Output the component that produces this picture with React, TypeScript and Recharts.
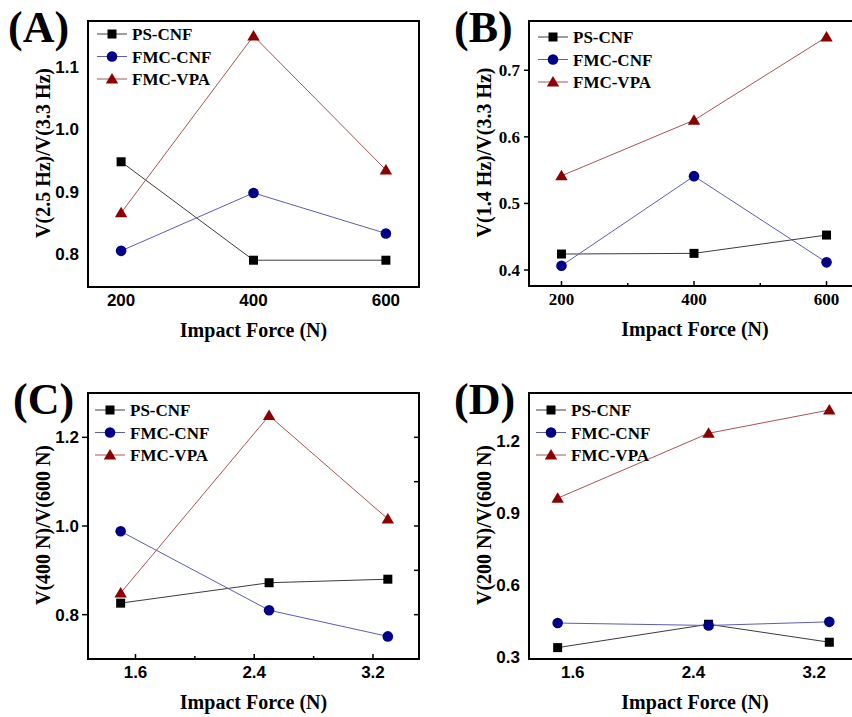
import React from "react";
import { LineChart, Line, XAxis, YAxis, ReferenceArea, Legend } from "recharts";

const SERIF = '"Liberation Serif", "Times New Roman", Times, serif';
const SANS = '"Liberation Sans", Arial, Helvetica, sans-serif';

// x values
const forceN = [200, 400, 600];
const forceScaled = [1.5, 2.5, 3.3];

const seriesNames = ["PS-CNF", "FMC-CNF", "FMC-VPA"];

// (A) V(2.5 Hz)/V(3.3 Hz)
const aPsCnf = [0.948, 0.79, 0.79];
const aFmcCnf = [0.805, 0.898, 0.833];
const aFmcVpa = [0.866, 1.15, 0.935];

// (B) V(1.4 Hz)/V(3.3 Hz)
const bPsCnf = [0.424, 0.425, 0.4525];
const bFmcCnf = [0.4065, 0.541, 0.4115];
const bFmcVpa = [0.5415, 0.625, 0.75];

// (C) V(400 N)/V(600 N)
const cPsCnf = [0.826, 0.872, 0.88];
const cFmcCnf = [0.988, 0.81, 0.751];
const cFmcVpa = [0.849, 1.249, 1.016];

// (D) V(200 N)/V(600 N)
const dPsCnf = [0.3375, 0.435, 0.36];
const dFmcCnf = [0.44, 0.43, 0.445];
const dFmcVpa = [0.961, 1.232, 1.329];

// ticks
const forceTicks = [200, 400, 600];
const forceMinor = [300, 500];
const scaledTicks = [1.6, 2.4, 3.2];
const scaledMinor = [2.0, 2.8];
const aYTicks = [0.8, 0.9, 1.0, 1.1];
const bYTicks = [0.4, 0.5, 0.6, 0.7];
const cYTicks = [0.8, 1.0, 1.2];
const cYMinor = [0.9, 1.1];
const dYTicks = [0.3, 0.6, 0.9, 1.2];

const STYLES = [
  { key: "ps", line: "#3c3c3c", fill: "#000000", shape: "square" },
  { key: "cnf", line: "#5c5cb4", fill: "#000088", shape: "circle" },
  { key: "vpa", line: "#a85454", fill: "#8b0000", shape: "triangle" },
];

function marker(shape: string, cx: number, cy: number, fill: string, key?: any) {
  if (shape === "square")
    return <rect key={key} x={cx - 4.5} y={cy - 4.5} width={9} height={9} fill={fill} />;
  if (shape === "circle") return <circle key={key} cx={cx} cy={cy} r={5.3} fill={fill} />;
  return (
    <polygon
      key={key}
      points={`${cx},${cy - 6} ${cx + 6.2},${cy + 4.5} ${cx - 6.2},${cy + 4.5}`}
      fill={fill}
    />
  );
}

const LegendBox = () => (
  <svg width={150} height={70} style={{ display: "block" }}>
    {STYLES.map((s, i) => {
      const cy = 11 + i * 22.5;
      return (
        <g key={s.key}>
          <line x1={0} x2={30} y1={cy} y2={cy} stroke={s.line} strokeWidth={1} />
          {marker(s.shape, 15, cy, s.fill)}
          <text x={35} y={cy + 6} fontFamily={SERIF} fontWeight="bold" fontSize={17} fill="#000">
            {seriesNames[i]}
          </text>
        </g>
      );
    })}
  </svg>
);

interface PanelProps {
  left: number;
  top: number;
  width: number;
  height: number;
  margin: { top: number; right: number; bottom: number; left: number };
  xs: number[];
  series: number[][];
  xDomain: [number, number];
  xTicks: number[];
  xMinor: number[];
  xFmt: (v: number) => string;
  xMajorLen: number;
  xMinorLen: number;
  yDomain: [number, number];
  yTicks: number[];
  yOutLen: number;
  rightTicks?: number[];
  yTitle: string;
  tickFont: string;
  legendPos: { left: number; top: number };
}

const Panel: React.FC<PanelProps> = (p) => {
  const data = p.xs.map((x, i) => ({
    x,
    ps: p.series[0][i],
    cnf: p.series[1][i],
    vpa: p.series[2][i],
  }));
  const rightW = p.rightTicks ? 2 : 0;
  const plotLeft = p.margin.left + 60;
  const plotRight = p.width - p.margin.right - rightW;
  const plotTop = p.margin.top;
  const plotBottom = p.height - p.margin.bottom - 30;

  const xTick = (t: any) => {
    const { x, y, payload } = t;
    const v = payload.value;
    const major = p.xTicks.includes(v);
    const len = major ? p.xMajorLen : p.xMinorLen;
    return (
      <g>
        {len > 0 && <line x1={x} x2={x} y1={y} y2={y - len} stroke="#000" strokeWidth={1.5} />}
        {major && (
          <text x={x} y={y + 19} textAnchor="middle" fontFamily={p.tickFont} fontWeight="bold" fontSize={17} fill="#000">
            {p.xFmt(v)}
          </text>
        )}
      </g>
    );
  };

  const yTick = (t: any) => {
    const { x, y, payload } = t;
    return (
      <g>
        {p.yOutLen > 0 && <line x1={x} x2={x - p.yOutLen} y1={y} y2={y} stroke="#000" strokeWidth={1.5} />}
        <text x={x - 9} y={y + 6} textAnchor="end" fontFamily={p.tickFont} fontWeight="bold" fontSize={17} fill="#000">
          {payload.value.toFixed(1)}
        </text>
      </g>
    );
  };

  const rTick = (t: any) => {
    const { x, y } = t;
    return <line x1={x} x2={x - 5} y1={y} y2={y} stroke="#000" strokeWidth={1.5} />;
  };

  const xTitle = () => (
    <text
      x={(plotLeft + plotRight) / 2}
      y={plotBottom + 50}
      textAnchor="middle"
      fontFamily={SERIF}
      fontWeight="bold"
      fontSize={20}
      fill="#000"
    >
      Impact Force (N)
    </text>
  );

  const yTitle = () => {
    const cx = plotLeft - 38;
    const cy = (plotTop + plotBottom) / 2 - 1;
    return (
      <text
        x={cx}
        y={cy}
        transform={`rotate(-90, ${cx}, ${cy})`}
        textAnchor="middle"
        fontFamily={SERIF}
        fontWeight="bold"
        fontSize={20}
        fill="#000"
      >
        {p.yTitle}
      </text>
    );
  };

  return (
    <div style={{ position: "absolute", left: p.left, top: p.top }}>
      <LineChart width={p.width} height={p.height} data={data} margin={p.margin}>
        <XAxis
          dataKey="x"
          type="number"
          domain={p.xDomain}
          allowDataOverflow
          ticks={[...p.xTicks, ...p.xMinor]}
          interval={0}
          tickLine={false}
          axisLine={false}
          tickSize={0}
          tickMargin={0}
          height={30}
          tick={xTick}
          label={{ content: xTitle }}
        />
        <YAxis
          type="number"
          domain={p.yDomain}
          allowDataOverflow
          ticks={p.yTicks}
          interval={0}
          tickLine={false}
          axisLine={false}
          tickSize={0}
          tickMargin={0}
          width={60}
          tick={yTick}
          label={{ content: yTitle }}
        />
        {p.rightTicks && (
          <YAxis
            yAxisId="r"
            orientation="right"
            type="number"
            domain={p.yDomain}
            allowDataOverflow
            ticks={p.rightTicks}
            interval={0}
            tickLine={false}
            axisLine={false}
            tickSize={0}
            tickMargin={0}
            width={rightW}
            tick={rTick}
          />
        )}
        <ReferenceArea
          x1={p.xDomain[0]}
          x2={p.xDomain[1]}
          y1={p.yDomain[0]}
          y2={p.yDomain[1]}
          fill="none"
          fillOpacity={0}
          stroke="#000"
          strokeWidth={2}
          ifOverflow="visible"
        />
        {STYLES.map((s) => (
          <Line
            key={s.key}
            type="linear"
            dataKey={s.key}
            stroke={s.line}
            strokeWidth={1}
            isAnimationActive={false}
            activeDot={false}
            legendType="none"
            dot={(d: any) => marker(s.shape, d.cx, d.cy, s.fill, `${s.key}-${d.index}`)}
          />
        ))}
        <Legend
          layout="vertical"
          align="center"
          verticalAlign="middle"
          content={() => <LegendBox />}
          wrapperStyle={{ left: p.legendPos.left, top: p.legendPos.top, width: "auto" }}
        />
      </LineChart>
    </div>
  );
};

const fmtInt = (v: number) => String(Math.round(v));
const fmt1 = (v: number) => v.toFixed(1);

const letters = [
  { t: "(A)", x: 8, y: 42 },
  { t: "(B)", x: 454, y: 42 },
  { t: "(C)", x: 13, y: 414 },
  { t: "(D)", x: 454, y: 414 },
];

export default function App() {
  return (
    <div
      style={{
        position: "fixed",
        left: 0,
        top: 0,
        width: 852,
        height: 717,
        overflow: "hidden",
        background: "#fff",
      }}
    >
      <Panel
        left={0}
        top={0}
        width={426}
        height={360}
        margin={{ top: 21, right: 7, bottom: 43, left: 28 }}
        xs={forceN}
        series={[aPsCnf, aFmcCnf, aFmcVpa]}
        xDomain={[150, 650]}
        xTicks={forceTicks}
        xMinor={[]}
        xFmt={fmtInt}
        xMajorLen={0}
        xMinorLen={0}
        yDomain={[0.747, 1.174]}
        yTicks={aYTicks}
        yOutLen={0}
        yTitle="V(2.5 Hz)/V(3.3 Hz)"
        tickFont={SANS}
        legendPos={{ left: 97, top: 23 }}
      />
      <Panel
        left={426}
        top={0}
        width={440}
        height={360}
        margin={{ top: 21, right: 5, bottom: 44, left: 43 }}
        xs={forceN}
        series={[bPsCnf, bFmcCnf, bFmcVpa]}
        xDomain={[151, 652]}
        xTicks={forceTicks}
        xMinor={forceMinor}
        xFmt={fmtInt}
        xMajorLen={5}
        xMinorLen={3}
        yDomain={[0.376, 0.774]}
        yTicks={bYTicks}
        yOutLen={5}
        yTitle="V(1.4 Hz)/V(3.3 Hz)"
        tickFont={SERIF}
        legendPos={{ left: 112, top: 26 }}
      />
      <Panel
        left={0}
        top={360}
        width={426}
        height={357}
        margin={{ top: 33, right: 5, bottom: 28, left: 28 }}
        xs={forceScaled}
        series={[cPsCnf, cFmcCnf, cFmcVpa]}
        xDomain={[1.28, 3.51]}
        xTicks={scaledTicks}
        xMinor={scaledMinor}
        xFmt={fmt1}
        xMajorLen={5}
        xMinorLen={3}
        yDomain={[0.7, 1.3]}
        yTicks={cYTicks}
        yOutLen={6}
        rightTicks={[...cYTicks, ...cYMinor]}
        yTitle="V(400 N)/V(600 N)"
        tickFont={SANS}
        legendPos={{ left: 95, top: 39 }}
      />
      <Panel
        left={426}
        top={360}
        width={440}
        height={357}
        margin={{ top: 33, right: 5, bottom: 28, left: 43 }}
        xs={forceScaled}
        series={[dPsCnf, dFmcCnf, dFmcVpa]}
        xDomain={[1.31, 3.51]}
        xTicks={scaledTicks}
        xMinor={[]}
        xFmt={fmt1}
        xMajorLen={0}
        xMinorLen={0}
        yDomain={[0.29, 1.4]}
        yTicks={dYTicks}
        yOutLen={0}
        yTitle="V(200 N)/V(600 N)"
        tickFont={SANS}
        legendPos={{ left: 110, top: 39 }}
      />
      <svg
        width={852}
        height={717}
        style={{ position: "absolute", left: 0, top: 0, pointerEvents: "none" }}
      >
        {letters.map((l) => (
          <text key={l.t} x={l.x} y={l.y} fontFamily={SERIF} fontWeight="bold" fontSize={44} fill="#000">
            {l.t}
          </text>
        ))}
      </svg>
    </div>
  );
}
